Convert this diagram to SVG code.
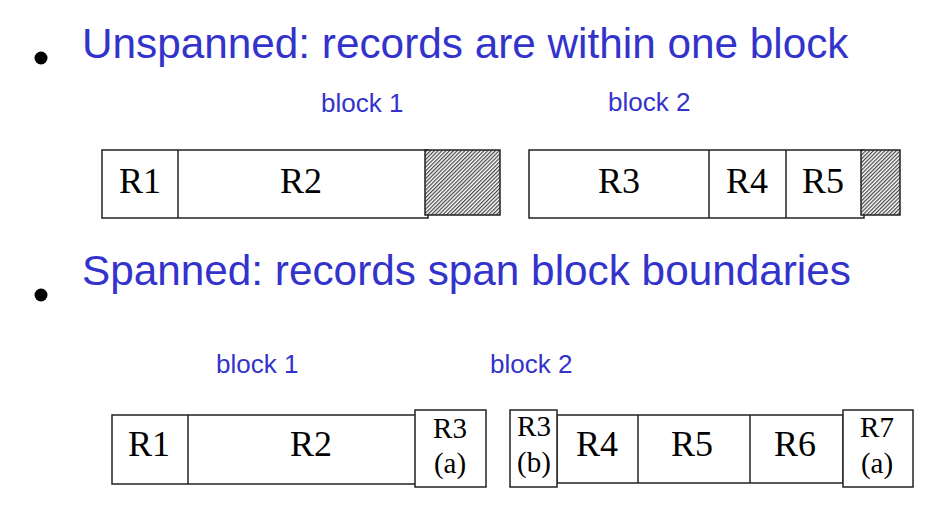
<svg xmlns="http://www.w3.org/2000/svg" width="948" height="532" viewBox="0 0 948 532">
<style>
.hd{font-family:"Liberation Sans",Arial,sans-serif;font-size:42.3px;fill:#3333cc}
.bl{font-family:"Liberation Sans",Arial,sans-serif;font-size:26px;fill:#3333cc}
.rec{fill:#fff;stroke:#222;stroke-width:1.5}
.div{stroke:#222;stroke-width:1.5}
.rl{font-family:"Liberation Serif","Times New Roman",serif;font-size:36px;fill:#000;text-anchor:middle}
.rs{font-family:"Liberation Serif","Times New Roman",serif;font-size:29px;fill:#000;text-anchor:middle}
.hatch{fill:url(#hp);stroke:#222;stroke-width:1.5}
</style>
<defs>
<pattern id="hp" patternUnits="userSpaceOnUse" width="2.7" height="2.7" patternTransform="rotate(45)">
<rect width="2.7" height="2.7" fill="#fff"/>
<rect width="1.2" height="2.7" fill="#444"/>
</pattern>
</defs>
<rect width="948" height="532" fill="#fff"/>

<g id="bullets">
<circle cx="41" cy="58" r="6.5" fill="#000"/>
<circle cx="41" cy="295" r="6.5" fill="#000"/>
</g>
<g id="headings">
<text class="hd" x="82" y="58">Unspanned: records are within one block</text>
<text class="hd" x="82" y="285">Spanned: records span block boundaries</text>
</g>

<g id="unspanned-block1">
<text class="bl" x="321" y="112">block 1</text>
<rect class="rec" x="102" y="150" width="326" height="68"/>
<line class="div" x1="178" y1="150" x2="178" y2="218"/>
<rect class="hatch" x="425" y="150" width="75" height="65"/>
<text class="rl" x="140" y="193">R1</text>
<text class="rl" x="301" y="193">R2</text>
</g>

<g id="unspanned-block2">
<text class="bl" x="608" y="111">block 2</text>
<rect class="rec" x="529" y="150" width="335" height="68"/>
<line class="div" x1="709" y1="150" x2="709" y2="218"/>
<line class="div" x1="786" y1="150" x2="786" y2="218"/>
<rect class="hatch" x="861" y="150" width="39" height="65"/>
<text class="rl" x="619" y="193">R3</text>
<text class="rl" x="747" y="193">R4</text>
<text class="rl" x="823" y="193">R5</text>
</g>

<g id="spanned-block1">
<text class="bl" x="216" y="373">block 1</text>
<rect class="rec" x="112" y="415" width="318" height="69"/>
<line class="div" x1="188" y1="415" x2="188" y2="484"/>
<text class="rl" x="149" y="456">R1</text>
<text class="rl" x="311" y="456">R2</text>
<rect class="rec" x="415" y="410" width="71" height="77"/>
<text class="rs" x="450" y="438">R3</text>
<text class="rs" x="450" y="473">(a)</text>
</g>

<g id="spanned-block2">
<text class="bl" x="490" y="373">block 2</text>
<rect class="rec" x="557" y="415" width="286" height="68"/>
<line class="div" x1="638" y1="415" x2="638" y2="483"/>
<line class="div" x1="750" y1="415" x2="750" y2="483"/>
<text class="rl" x="597" y="456">R4</text>
<text class="rl" x="692" y="456">R5</text>
<text class="rl" x="795" y="456">R6</text>
<rect class="rec" x="510" y="410" width="47" height="77"/>
<text class="rs" x="534" y="436">R3</text>
<text class="rs" x="534" y="472">(b)</text>
<rect class="rec" x="843" y="410" width="70" height="77"/>
<text class="rs" x="877" y="437">R7</text>
<text class="rs" x="877" y="473">(a)</text>
</g>

<g id="connectors"></g>
</svg>
